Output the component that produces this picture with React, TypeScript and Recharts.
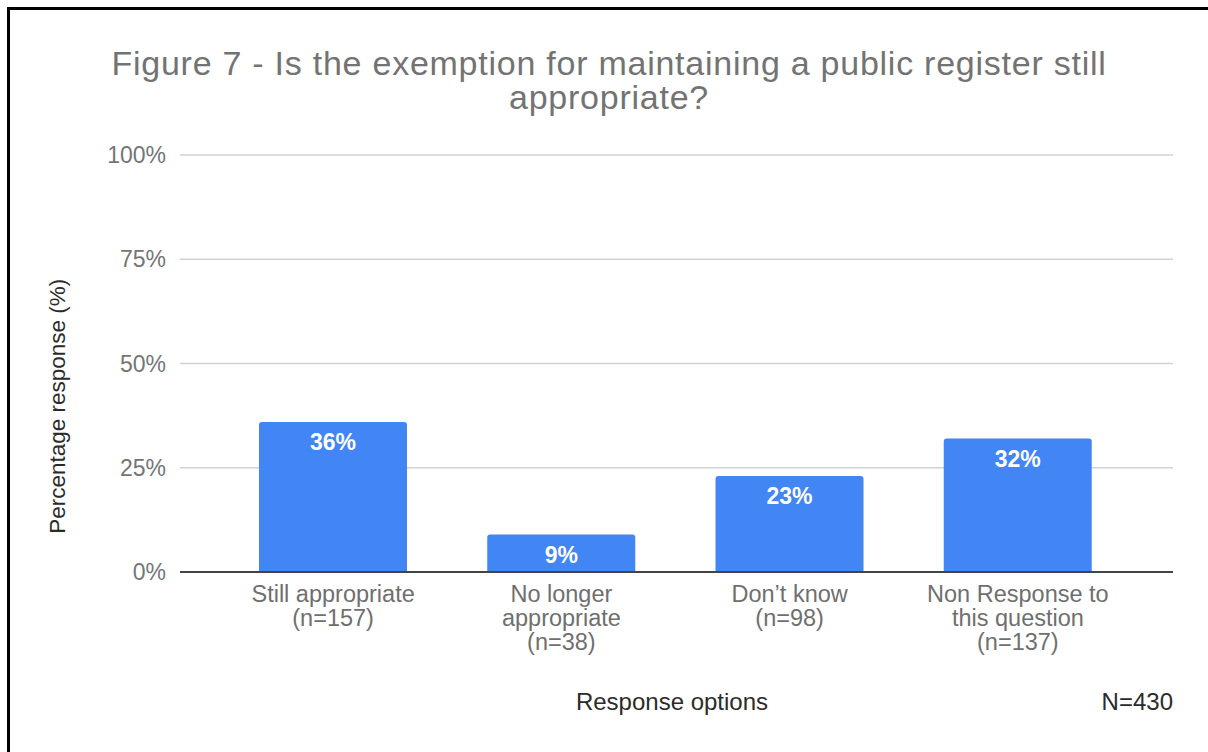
import React from 'react'
import { BarChart, Bar, XAxis, YAxis, CartesianGrid, LabelList } from 'recharts'

const categories = [
  'Still appropriate\n(n=157)',
  'No longer\nappropriate\n(n=38)',
  'Don’t know\n(n=98)',
  'Non Response to\nthis question\n(n=137)',
]
const percentages = [36, 9, 23, 32]
const yTicks = [0, 25, 50, 75, 100]

const data = categories.map((name, i) => ({ name, value: percentages[i] }))

const FONT = '"Liberation Sans", Arial, Helvetica, sans-serif'

function CategoryTick(props: any) {
  const { x, y, payload } = props
  const lines = String(payload.value).split('\n')
  return (
    <text x={x} y={y + 24} textAnchor="middle" fill="#6f6f6f" fontSize={23.5} fontFamily={FONT}>
      {lines.map((line, i) => (
        <tspan key={i} x={x} dy={i === 0 ? 0 : 24}>
          {line}
        </tspan>
      ))}
    </text>
  )
}

export default function App() {
  return (
    <div style={{ position: 'absolute', left: 0, top: 0, width: 1208, height: 752, background: '#fff', fontFamily: FONT, overflow: 'hidden' }}>
      <div
        style={{
          position: 'absolute',
          left: 7,
          top: 7,
          width: 1201,
          height: 745,
          borderLeft: '3px solid #000',
          borderTop: '3px solid #000',
          boxSizing: 'border-box',
        }}
      />
      <div
        style={{
          position: 'absolute',
          left: 0,
          top: 46,
          width: 1218,
          textAlign: 'center',
          fontSize: 34,
          lineHeight: '34px',
          letterSpacing: 0.75,
          color: '#737373',
        }}
      >
        Figure 7 - Is the exemption for maintaining a public register still
        <br />
        appropriate?
      </div>

      <div style={{ position: 'absolute', left: 0, top: 0 }}>
        <BarChart
          width={1208}
          height={752}
          data={data}
          margin={{ top: 155, right: 35, left: 0, bottom: 120 }}
        >
          <CartesianGrid vertical={false} stroke="#d2d2d2" strokeWidth={1.5} />
          <XAxis
            dataKey="name"
            height={60}
            padding={{ left: 39, right: 41 }}
            interval={0}
            tickLine={false}
            tickMargin={0}
            axisLine={{ stroke: '#444', strokeWidth: 2 }}
            tick={<CategoryTick />}
          />
          <YAxis
            width={180}
            domain={[0, 100]}
            ticks={yTicks}
            tickFormatter={(v: number) => `${v}%`}
            axisLine={false}
            tickLine={false}
            tickMargin={8}
            tick={{ fill: '#757575', fontSize: 23, fontFamily: FONT }}
          />
          <Bar dataKey="value" fill="#4285F4" barSize={148} radius={[3, 3, 0, 0]} isAnimationActive={false}>
            <LabelList
              dataKey="value"
              position="insideTop"
              offset={12}
              formatter={(v: any) => `${v}%`}
              fill="#ffffff"
              fontSize={23}
              fontWeight="bold"
              fontFamily={FONT}
            />
          </Bar>
        </BarChart>
      </div>

      <div
        style={{
          position: 'absolute',
          left: 58 - 150,
          top: 406 - 11.25,
          width: 300,
          height: 22.5,
          textAlign: 'center',
          fontSize: 22.5,
          lineHeight: '22.5px',
          color: '#2b2b2b',
          transform: 'rotate(-90deg)',
          whiteSpace: 'nowrap',
        }}
      >
        Percentage response (%)
      </div>

      <div
        style={{
          position: 'absolute',
          left: 672 - 150,
          top: 690,
          width: 300,
          textAlign: 'center',
          fontSize: 24,
          lineHeight: '24px',
          color: '#2b2b2b',
        }}
      >
        Response options
      </div>
      <div
        style={{
          position: 'absolute',
          left: 973,
          top: 690,
          width: 200,
          textAlign: 'right',
          fontSize: 24,
          lineHeight: '24px',
          color: '#2b2b2b',
        }}
      >
        N=430
      </div>
    </div>
  )
}
